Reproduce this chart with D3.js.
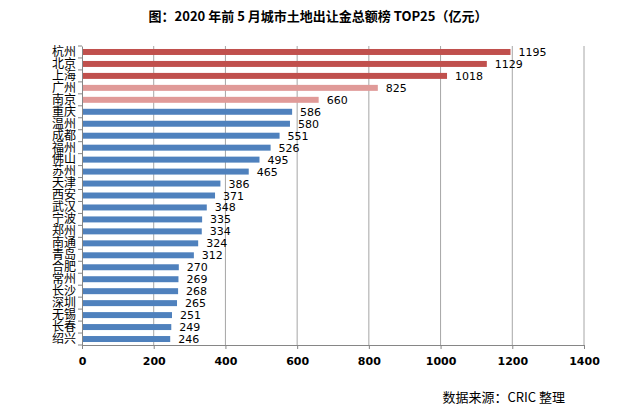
<!DOCTYPE html>
<html>
<head>
<meta charset="utf-8">
<script src="https://cdn.jsdelivr.net/npm/d3@7"></script>
<style>
  body { margin: 0; background: #fff; }
  svg text { font-family: "DejaVu Sans", "Noto Sans CJK SC", sans-serif; }
</style>
</head>
<body>
<svg id="chart" width="636" height="417"></svg>
<script>
// city ranking, Jan-May 2020 land sales (100M yuan)
const cities = ["杭州", "北京", "上海", "广州", "南京", "重庆", "温州", "成都", "福州", "佛山",
  "苏州", "天津", "西安", "武汉", "宁波", "郑州", "南通", "青岛", "合肥", "常州",
  "长沙", "深圳", "无锡", "长春", "绍兴"];
const amounts = [1195, 1129, 1018, 825, 660, 586, 580, 551, 526, 495,
  465, 386, 371, 348, 335, 334, 324, 312, 270, 269,
  268, 265, 251, 249, 246];
const groups = ["top", "top", "top", "mid", "mid"]; // rest are "rest"
const xTicks = [0, 200, 400, 600, 800, 1000, 1200, 1400];

const colors = { top: "#c0504d", mid: "#e09a98", rest: "#4f81bd" };

const svg = d3.select("#chart");
const margin = { left: 82, right: 52, top: 46, bottom: 72 };
const W = 636, H = 417;

const x = d3.scaleLinear().domain([0, 1400]).range([margin.left, W - margin.right]);
const y = d3.scaleBand().domain(cities).range([margin.top, H - margin.bottom]).paddingInner(0.5).paddingOuter(0.25);

// title
svg.append("text")
  .attr("x", 318).attr("y", 21)
  .attr("text-anchor", "middle")
  .attr("font-size", 13).attr("font-weight", "bold")
  .style("font-family", "'Noto Sans CJK SC', sans-serif")
  .style("white-space", "pre")
  .text("图：2020 年前 5 月城市土地出让金总额榜 TOP25（亿元）");

// grid
svg.append("g").selectAll("line")
  .data(xTicks.slice(1))
  .join("line")
  .attr("x1", d => x(d)).attr("x2", d => x(d))
  .attr("y1", margin.top).attr("y2", H - margin.bottom)
  .attr("stroke", "#a6a6a6").attr("stroke-width", 1);

// bars
svg.append("g").selectAll("rect")
  .data(cities)
  .join("rect")
  .attr("x", x(0))
  .attr("y", d => y(d))
  .attr("width", (d, i) => x(amounts[i]) - x(0))
  .attr("height", y.bandwidth())
  .attr("fill", (d, i) => colors[groups[i] || "rest"]);

// value labels
svg.append("g").selectAll("text")
  .data(cities)
  .join("text")
  .attr("x", (d, i) => x(amounts[i]) + 8)
  .attr("y", d => y(d) + y.bandwidth() / 2 + 4)
  .attr("font-size", 11)
  .attr("fill", "#000")
  .text((d, i) => amounts[i]);

// x axis
const xAxis = svg.append("g")
  .attr("transform", `translate(0,${H - margin.bottom})`)
  .call(d3.axisBottom(x).tickValues(xTicks).tickFormat(d3.format("d")).tickSize(4).tickSizeOuter(0));
xAxis.select(".domain").attr("stroke", "#868686");
xAxis.selectAll(".tick line").attr("stroke", "#868686");
xAxis.selectAll(".tick text")
  .attr("font-size", 11).attr("font-weight", "bold")
  .attr("dy", "1.2em")
  .style("font-family", "'DejaVu Sans', sans-serif");

// y axis
const yAxis = svg.append("g")
  .attr("transform", `translate(${margin.left},0)`)
  .call(d3.axisLeft(y).tickSize(0).tickPadding(6));
yAxis.select(".domain").attr("stroke", "#868686");
yAxis.selectAll(".tick text")
  .attr("font-size", 12)
  .style("font-family", "'Noto Sans CJK SC', sans-serif");

// category boundary ticks
svg.append("g").selectAll("line")
  .data(d3.range(cities.length + 1))
  .join("line")
  .attr("x1", margin.left - 4).attr("x2", margin.left)
  .attr("y1", i => margin.top + i * (H - margin.bottom - margin.top) / cities.length)
  .attr("y2", i => margin.top + i * (H - margin.bottom - margin.top) / cities.length)
  .attr("stroke", "#868686");

// source
svg.append("text")
  .attr("x", 565).attr("y", 402)
  .attr("text-anchor", "end")
  .attr("font-size", 13)
  .style("font-family", "'Noto Sans CJK SC', sans-serif")
  .text("数据来源：CRIC 整理");
</script>
</body>
</html>
